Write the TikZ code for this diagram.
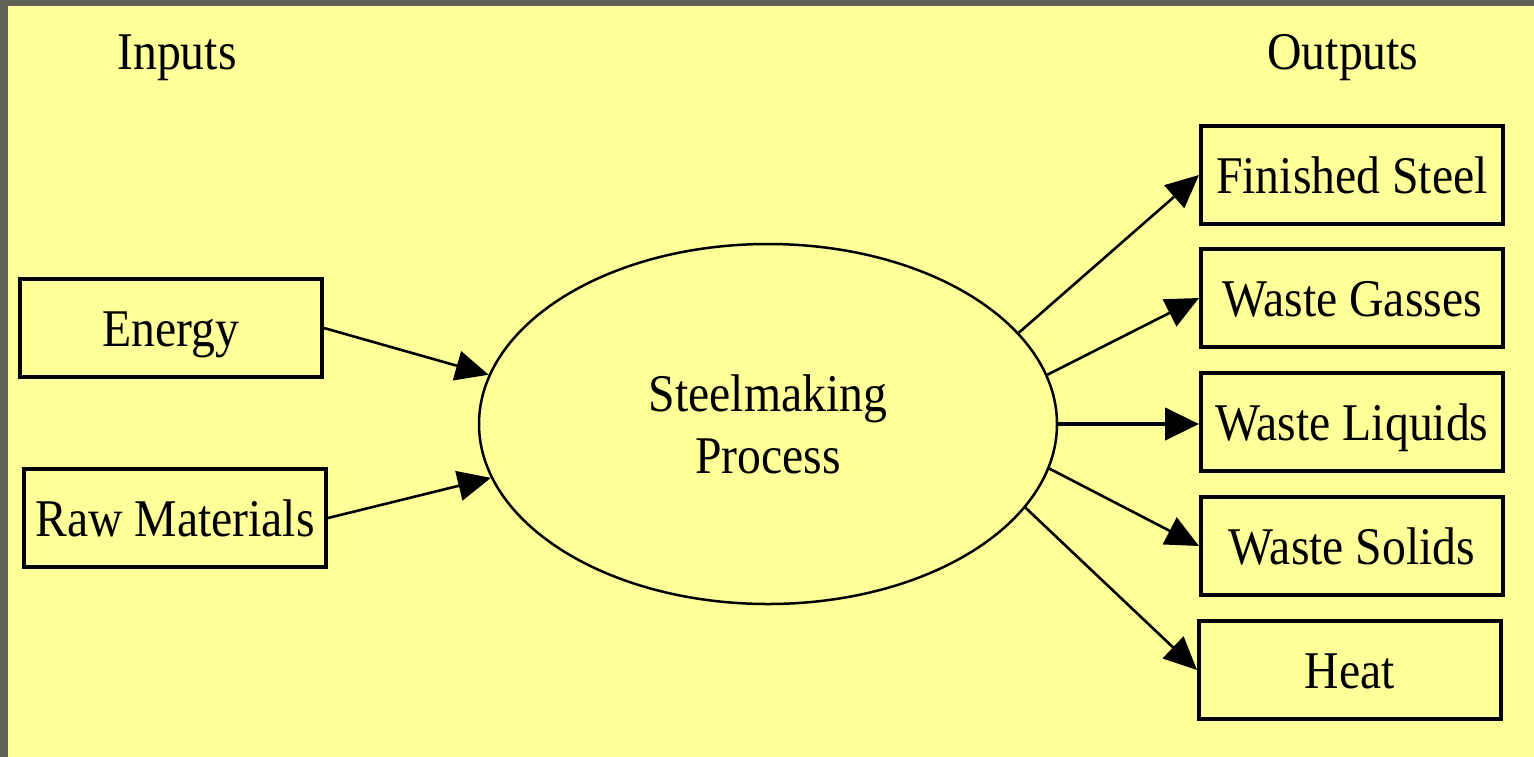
\documentclass[tikz,border=0pt]{standalone}
\usepackage{fontspec}
\setmainfont[FakeStretch=0.9]{Liberation Serif}
\usetikzlibrary{positioning,shapes.geometric,arrows.meta}

\definecolor{paper}{RGB}{255,255,153}
\definecolor{frame}{RGB}{98,98,90}

\tikzset{
    label text/.style={font=\fontsize{53}{62}\selectfont},
    flowbox/.style={draw,line width=4pt,minimum width=302pt,minimum height=98pt,
        inner sep=0pt,text height=36pt,text depth=0pt,label text},
    proc/.style={ellipse,draw,line width=2.5pt,minimum width=578pt,minimum height=360pt,
        inner sep=0pt,align=center,label text},
    flow/.style={line width=2.6pt,-{Triangle[length=33pt,width=30pt]}},
    mainflow/.style={flow,line width=4.5pt,-{Triangle[length=34pt,width=32pt]}},
}

\begin{document}
\begin{tikzpicture}[x=1pt,y=-1pt]
    \useasboundingbox (0,0) rectangle (1534,756);
    \fill[frame] (-2,-2) rectangle (1538,760);
    \fill[paper] (8,6) rectangle (1538,760);

    % process
    \node[proc] (p1) at (768,424) {Steelmaking\\Process};

    % inputs
    \node[label text,anchor=base] (i0) at (177,69) {Inputs};
    \node[flowbox] (i1) at (171,328) {Energy};
    \node[flowbox] (i2) at (175,518) {Raw Materials};

    % outputs
    \node[label text,anchor=base] (o0) at (1343,69) {Outputs};
    \node[flowbox] (o1) at (1352,175) {Finished Steel};
    \node[flowbox,below=21pt of o1] (o2) {Waste Gasses};
    \node[flowbox,below=22pt of o2] (o3) {Waste Liquids};
    \node[flowbox,below=22pt of o3] (o4) {Waste Solids};
    \node[flowbox,below=22pt of o4,xshift=-2pt] (o5) {Heat};

    \draw[flow] (i1.east) -- (p1.170.7);
    \draw[flow] (i2.east) -- (p1.191);
    \draw[flow] (p1.20.5) -- (o1.west);
    \draw[flow] (p1.10.9) -- (o2.west);
    \draw[mainflow] (p1.east) -- (p1.east -| o3.west);
    \draw[flow] (p1.-9.2) -- (o4.west);
    \draw[flow] (p1.-18.8) -- (o5.west);
\end{tikzpicture}
\end{document}
